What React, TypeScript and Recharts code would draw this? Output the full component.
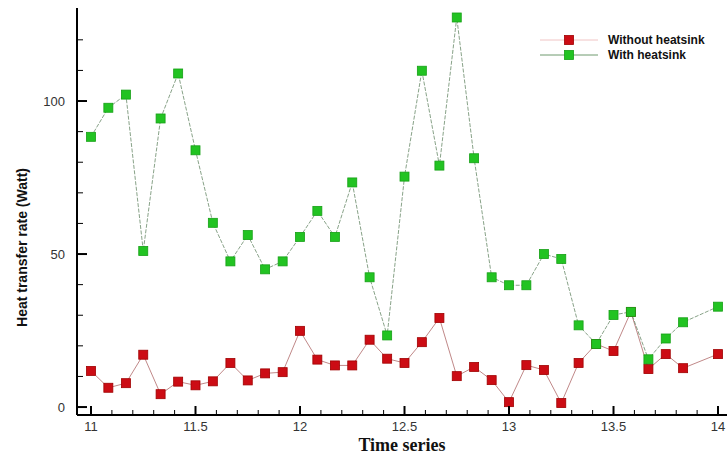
import React from 'react';
import { LineChart, Line, XAxis, YAxis, Legend } from 'recharts';

const times = [11, 11.083, 11.167, 11.25, 11.333, 11.417, 11.5, 11.583, 11.667, 11.75, 11.833, 11.917, 12, 12.083, 12.167, 12.25, 12.333, 12.417, 12.5, 12.583, 12.667, 12.75, 12.833, 12.917, 13, 13.083, 13.167, 13.25, 13.333, 13.417, 13.5, 13.583, 13.667, 13.75, 13.833, 14];
const withoutHeatsink = [11.8, 6.3, 7.8, 17.1, 4.2, 8.3, 7.1, 8.4, 14.4, 8.7, 11.0, 11.4, 24.9, 15.5, 13.6, 13.6, 22.0, 15.8, 14.4, 21.2, 29.1, 10.1, 13.1, 8.8, 1.6, 13.7, 12.1, 1.3, 14.4, 20.6, 18.3, 31.1, 12.4, 17.3, 12.7, 17.3];
const withHeatsink = [88.3, 97.8, 102.1, 51.0, 94.3, 109.0, 83.9, 60.2, 47.6, 56.2, 45.0, 47.6, 55.6, 64.1, 55.6, 73.4, 42.4, 23.4, 75.3, 109.9, 78.9, 127.3, 81.3, 42.4, 39.8, 39.8, 50.0, 48.4, 26.7, 20.6, 30.1, 31.1, 15.6, 22.4, 27.7, 32.8];

const xTicks = [11, 11.1, 11.2, 11.3, 11.4, 11.5, 11.6, 11.7, 11.8, 11.9, 12, 12.1, 12.2, 12.3, 12.4, 12.5, 12.6, 12.7, 12.8, 12.9, 13, 13.1, 13.2, 13.3, 13.4, 13.5, 13.6, 13.7, 13.8, 13.9, 14];
const xMajorTicks = [11, 11.5, 12, 12.5, 13, 13.5, 14];
const yTicks = [0, 10, 20, 30, 40, 50, 60, 70, 80, 90, 100, 110, 120];
const yMajorTicks = [0, 50, 100];

const seriesNames = ['Without heatsink', 'With heatsink'];
const yAxisTitle = 'Heat transfer rate (Watt)';
const xAxisTitle = 'Time series';

const data = times.map((t, i) => ({ t, without: withoutHeatsink[i], with: withHeatsink[i] }));

const isMajor = (v: number, list: number[]) => list.some((m) => Math.abs(m - v) < 1e-6);

const YTick = (props: any) => {
  const { x, y, payload } = props;
  const major = isMajor(payload.value, yMajorTicks);
  return (
    <g>
      <line x1={x} x2={x + (major ? 10 : 6)} y1={y} y2={y} stroke="#000" strokeWidth={major ? 2 : 1} />
      {major && (
        <text x={x - 12} y={y} dy={4.5} textAnchor="end" fontFamily="Liberation Sans, Arial, sans-serif" fontSize={13} fill="#333">
          {payload.value}
        </text>
      )}
    </g>
  );
};

const XTick = (props: any) => {
  const { x, y, payload } = props;
  const major = isMajor(payload.value, xMajorTicks);
  return (
    <g>
      <line x1={x} x2={x} y1={y} y2={y - (major ? 9 : 5)} stroke="#000" strokeWidth={major ? 2 : 1} />
      {major && (
        <text x={x} y={y + 16} textAnchor="middle" fontFamily="Liberation Sans, Arial, sans-serif" fontSize={13} fill="#333">
          {String(payload.value)}
        </text>
      )}
    </g>
  );
};

const YTitle = (props: any) => {
  const vb = props.viewBox || { x: 0, y: 8, width: 77, height: 407 };
  const cx = 22;
  const cy = vb.y + vb.height / 2 + 36;
  return (
    <text
      x={cx}
      y={cy}
      transform={`rotate(-90 ${cx} ${cy})`}
      textAnchor="middle"
      dominantBaseline="central"
      fontFamily="Liberation Sans, Arial, sans-serif"
      fontWeight="bold"
      fontSize={14}
      fill="#111"
    >
      {yAxisTitle}
    </text>
  );
};

const makeDot = (fill: string, stroke: string) => (props: any) => {
  const { cx, cy, index } = props;
  if (cx == null || cy == null) return <g key={`d${index}`} />;
  return <rect key={`d${index}`} x={cx - 4.5} y={cy - 4.5} width={9} height={9} fill={fill} stroke={stroke} strokeWidth={0.8} />;
};

const legendItems = [
  { name: seriesNames[0], fill: '#cc0c14', stroke: '#a00000', line: '#f0c4c4' },
  { name: seriesNames[1], fill: '#22c322', stroke: '#16a016', line: '#6f9a6f' },
];

const renderLegend = () => (
  <svg width={190} height={40}>
    {legendItems.map((it, i) => {
      const cy = 12 + i * 15;
      return (
        <g key={it.name}>
          <line x1={5} x2={63} y1={cy} y2={cy} stroke={it.line} strokeWidth={1} />
          <rect x={29.5} y={cy - 4.5} width={9} height={9} fill={it.fill} stroke={it.stroke} strokeWidth={0.8} />
          <text x={73} y={cy + 4} fontFamily="Liberation Sans, Arial, sans-serif" fontWeight="bold" fontSize={12} fill="#111">
            {it.name}
          </text>
        </g>
      );
    })}
  </svg>
);

export default function App() {
  return (
    <div style={{ position: 'absolute', left: 0, top: 0, width: 727, height: 457, background: '#fff' }}>
      <LineChart width={727} height={457} data={data} margin={{ top: 8, right: 0, bottom: 0, left: 0 }}>
        <XAxis
          dataKey="t"
          type="number"
          domain={[10.933, 14.043]}
          allowDataOverflow
          ticks={xTicks}
          interval={0}
          tick={<XTick />}
          tickLine={false}
          tickSize={0}
          tickMargin={0}
          axisLine={{ stroke: '#000', strokeWidth: 2 }}
          height={42}
          label={{ value: xAxisTitle, position: 'insideBottom', offset: 6, style: { fontFamily: 'Liberation Serif, Times New Roman, serif', fontWeight: 'bold', fontSize: 18, fill: '#111' } }}
        />
        <XAxis
          xAxisId="top"
          orientation="top"
          dataKey="t"
          type="number"
          domain={[10.933, 14.043]}
          allowDataOverflow
          tick={false}
          tickLine={false}
          height={0}
          axisLine={{ stroke: '#111', strokeWidth: 2 }}
        />
        <YAxis
          type="number"
          domain={[-2.6, 130.4]}
          allowDataOverflow
          ticks={yTicks}
          interval={0}
          tick={<YTick />}
          tickLine={false}
          tickSize={0}
          tickMargin={0}
          width={77}
          axisLine={{ stroke: '#000', strokeWidth: 2 }}
          label={<YTitle />}
        />
        <Legend
          layout="horizontal"
          verticalAlign="middle"
          align="center"
          content={renderLegend}
          wrapperStyle={{ position: 'absolute', left: 535, top: 28, width: 190, height: 40 }}
        />
        <Line
          type="linear"
          dataKey="without"
          name={seriesNames[0]}
          stroke="#b06a6a"
          strokeWidth={0.8}
          dot={makeDot('#cc0c14', '#a00000')}
          activeDot={false}
          isAnimationActive={false}
        />
        <Line
          type="linear"
          dataKey="with"
          name={seriesNames[1]}
          stroke="#6a8a6a"
          strokeWidth={0.8}
          strokeDasharray="4 1.5"
          dot={makeDot('#22c322', '#16a016')}
          activeDot={false}
          isAnimationActive={false}
        />
      </LineChart>
    </div>
  );
}
